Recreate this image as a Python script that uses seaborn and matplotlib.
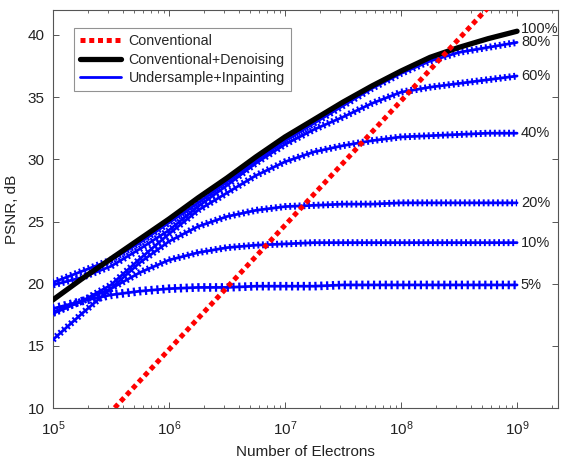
import matplotlib
matplotlib.use("Agg")
import matplotlib.pyplot as plt
from matplotlib.lines import Line2D
from matplotlib.ticker import LogLocator, MultipleLocator
import numpy as np
import seaborn as sns

# electron dose grid (quarter decades) and PSNR values
electrons = [1e5, 1.78e5, 3.16e5, 5.62e5, 1e6, 1.78e6, 3.16e6, 5.62e6, 1e7,
             1.78e7, 3.16e7, 5.62e7, 1e8, 1.78e8, 3.16e8, 5.62e8, 1e9]

denoise_100 = [18.7, 20.4, 22.0, 23.6, 25.2, 26.9, 28.5, 30.2, 31.8,
               33.2, 34.6, 35.9, 37.1, 38.2, 39.0, 39.7, 40.3]
inpaint = {
    "80%": [20.1, 21.0, 21.9, 23.3, 24.9, 26.5, 28.2, 29.9, 31.5,
            32.9, 34.3, 35.7, 36.9, 37.9, 38.6, 39.0, 39.4],
    "60%": [19.9, 20.5, 21.4, 22.8, 24.3, 26.2, 27.9, 29.7, 31.2,
            32.4, 33.4, 34.5, 35.4, 35.8, 36.1, 36.4, 36.7],
    "40%": [17.6, 18.6, 19.9, 22.0, 24.0, 25.9, 27.3, 28.7, 29.8,
            30.6, 31.1, 31.5, 31.8, 31.9, 32.0, 32.1, 32.1],
    "20%": [15.5, 17.6, 19.6, 21.7, 23.4, 24.6, 25.4, 25.9, 26.2,
            26.3, 26.4, 26.4, 26.5, 26.5, 26.5, 26.5, 26.5],
    "10%": [17.7, 18.6, 19.6, 20.9, 21.9, 22.5, 22.9, 23.1, 23.2,
            23.3, 23.3, 23.3, 23.3, 23.3, 23.3, 23.3, 23.3],
    "5%": [18.0, 18.6, 19.1, 19.4, 19.6, 19.7, 19.7, 19.8, 19.8,
           19.8, 19.9, 19.9, 19.9, 19.9, 19.9, 19.9, 19.9],
}

conv_electrons = [1e5, 1e6, 1e7, 1e8, 1e9]
conv_psnr = [4.7, 14.7, 24.7, 34.7, 44.7]

sns.set_style("ticks")
plt.rcParams["font.family"] = ["Liberation Sans", "DejaVu Sans"]
plt.rcParams["mathtext.fontset"] = "custom"
plt.rcParams["mathtext.rm"] = "Liberation Sans"
plt.rcParams["mathtext.it"] = "Liberation Sans"

fig, ax = plt.subplots(figsize=(5.63, 4.58), dpi=100)
fig.subplots_adjust(left=0.094, right=0.991, top=0.978, bottom=0.109)

BLUE = "#0000ff"

for name, vals in inpaint.items():
    big = name == "5%"
    # core line
    sns.lineplot(x=electrons, y=vals, ax=ax, color=BLUE, lw=2.0,
                 estimator=None, zorder=3)
    # dense "+" marker look
    sns.lineplot(x=electrons, y=vals, ax=ax, color=BLUE,
                 lw=6.2 if big else 5.0,
                 linestyle=(0, (0.26, 0.42)) if big else (0, (0.28, 0.40)),
                 solid_capstyle="butt", dash_capstyle="butt",
                 estimator=None, zorder=3)
    ax.text(1.08e9, vals[-1], name, ha="left", va="center", fontsize=10.5,
            color="#222222")

sns.lineplot(x=electrons, y=denoise_100, ax=ax, color="black", lw=3.8,
             estimator=None, zorder=4)
ax.text(1.08e9, denoise_100[-1] + 0.2, "100%", ha="left", va="center",
        fontsize=10.5, color="#222222")

sns.lineplot(x=conv_electrons, y=conv_psnr, ax=ax, color="#ff0000", lw=3.6,
             linestyle=(0, (1, 0.75)), dash_capstyle="butt",
             estimator=None, zorder=5)

ax.set_xscale("log")
ax.set_xlim(1e5, 2.25e9)
ax.set_ylim(10, 42)
ax.yaxis.set_major_locator(MultipleLocator(5))
ax.xaxis.set_major_locator(LogLocator(base=10, numticks=10))
ax.xaxis.set_minor_locator(LogLocator(base=10, subs=np.arange(2, 10), numticks=20))

ax.set_xlabel("Number of Electrons", fontsize=11, color="#222222", labelpad=5)
ax.set_ylabel("PSNR, dB", fontsize=11, color="#222222", labelpad=6)

for s in ax.spines.values():
    s.set_color("#555555")
    s.set_linewidth(0.8)
ax.tick_params(which="both", direction="in", top=True, right=True,
               colors="#555555", labelcolor="#222222", labelsize=11)
ax.tick_params(which="major", length=4.5, width=0.7)
ax.tick_params(which="minor", length=2.5, width=0.6)
ax.tick_params(axis="x", which="major", pad=8)
ax.tick_params(axis="y", which="major", pad=6)

handles = [
    Line2D([], [], color="#ff0000", lw=3.6, linestyle=(0, (1, 0.75))),
    Line2D([], [], color="black", lw=3.8),
    Line2D([], [], color=BLUE, lw=2.0),
]
leg = ax.legend(handles, ["Conventional", "Conventional+Denoising",
                          "Undersample+Inpainting"],
                loc="upper left", bbox_to_anchor=(0.028, 0.972),
                fontsize=10.3, frameon=True, fancybox=False, handlelength=2.9,
                borderpad=0.4, labelspacing=0.32, handletextpad=0.5)
leg.get_frame().set_edgecolor("#777777")
leg.get_frame().set_linewidth(0.8)

fig.savefig("out.png", dpi=100)
